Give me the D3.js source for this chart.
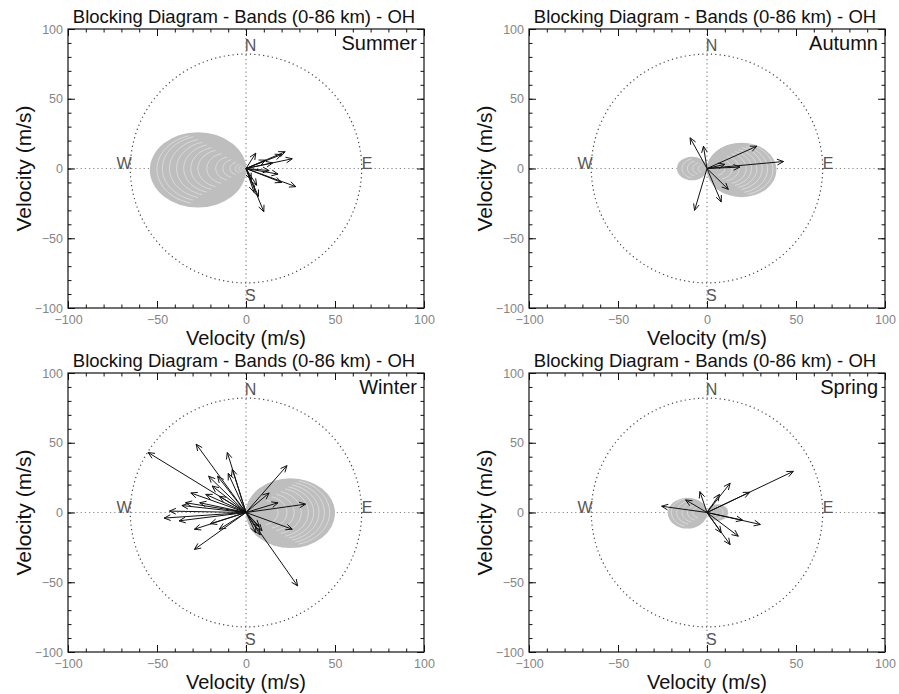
<!DOCTYPE html>
<html>
<head>
<meta charset="utf-8">
<script src="https://cdn.jsdelivr.net/npm/d3@7"></script>
<style>
  body { margin: 0; background: #fff; }
  text { font-family: "Liberation Sans", Arial, sans-serif; }
</style>
</head>
<body>
<div id="chart"></div>
<script>
var seasons = ["Summer", "Autumn", "Winter", "Spring"];
var titleText = "Blocking Diagram - Bands (0-86 km) - OH";
var axisLabel = "Velocity (m/s)";
var tickValues = [-100, -50, 0, 50, 100];
var minorTickValues = d3.range(-100, 101, 10);
var compassRadius = [65, 82];
var compassLetters = [
  { t: "N", x: 2.5, y: 84 },
  { t: "S", x: 2.5, y: -95 },
  { t: "W", x: -68.5, y: 0 },
  { t: "E", x: 68, y: 0 }
];

// wave vectors (u, v) in m/s
var summerArrows = [[22, 12], [26, 7], [20, 10], [5.5, 11], [15, 4], [11, 6], [13, -1.5], [18, -4],
  [20, -10], [28, -13], [7, -20], [4.5, -17], [10, -31], [6, -12], [3, -8]];
var autumnArrows = [[43, 5], [28, 16], [-9.5, 22], [-2, 16], [-7, -30], [8, -24], [12, -15], [18.5, 1], [10, 3]];
var winterArrows = [[-55, 43], [-28, 49], [-10.5, 43], [-7.7, 31], [-10, 28], [-16, 26], [-21, 26], [-19, 19],
  [-22.6, 13], [-15, 11.6], [-31, 14], [-26, 7], [-34, 7], [-36, 5], [-43, 1], [-46, -4], [-37.6, -6],
  [-29, -12], [-15, -12], [-29, -26.5], [-20, -8], [23, 33.6], [13, 14], [18, 7], [33.5, 6], [26, -12],
  [29, -52.6], [8, -16], [5.5, -14.5], [9, -13], [7.5, -10]];
var springArrows = [[48.5, 29.5], [24, 14.5], [13, 21], [7, 13], [-4, 15], [-12, 9], [-25.5, 4.5],
  [30, -8.6], [20, -5.5], [17.6, -17], [13, -23], [8, -14.5]];

// wind end points of the blocking circles (circle diameter from origin to point)
var summerBlocks = [[-54, -2], [-50, -1], [-47, 0], [-43, 0], [-39, 0], [-35, 0], [-31, 0], [-27, 0],
  [-22, 0], [-17, 0], [-13, 0], [-9, 0], [-6, 0], [-4, 0], [-2, 0]];
var autumnBlocks = [[39, -2], [37, -1], [34, -1], [31, 0], [28, 0], [25, 0], [22, 0], [18, 0], [14, -1],
  [10, 0], [-17, 0], [-14, 0], [-11, 0], [-8, 0], [-5, 0]];
var winterBlocks = [[50, -1], [47, 0], [44, 0], [41, 0], [38, 0], [35, 0], [31, 0], [27, 0], [23, 0], [18, 0]];
var springBlocks = [[-22, -1], [-20, 0], [-17, 0], [-14, 0], [-11, 0], [-8, 0], [12, 0], [9, 0]];

var allArrows = [summerArrows, autumnArrows, winterArrows, springArrows];
var allBlocks = [summerBlocks, autumnBlocks, winterBlocks, springBlocks];

var panelLeft = [68, 529], panelTop = [29, 373];
var W = 356, H = 279;

var svg = d3.select("#chart").append("svg")
  .attr("width", 899).attr("height", 694);

function fmt(d) { return d < 0 ? "\u2212" + Math.abs(d) : String(d); }

function drawPanel(i) {
  var left = panelLeft[i % 2], top = panelTop[Math.floor(i / 2)];
  var x = d3.scaleLinear().domain([-100, 100]).range([0, W]);
  var y = d3.scaleLinear().domain([-100, 100]).range([H, 0]);
  var g = svg.append("g").attr("transform", "translate(" + left + "," + top + ")");

  // dotted cross
  g.append("line").attr("x1", x(-100)).attr("x2", x(100)).attr("y1", y(0)).attr("y2", y(0))
    .attr("stroke", "#888").attr("stroke-width", 1.2).attr("stroke-dasharray", "1.2,3");
  g.append("line").attr("x1", x(0)).attr("x2", x(0)).attr("y1", y(-100)).attr("y2", y(100))
    .attr("stroke", "#888").attr("stroke-width", 1.2).attr("stroke-dasharray", "1.2,3");

  // compass circle
  g.append("ellipse")
    .attr("cx", x(0)).attr("cy", y(0))
    .attr("rx", x(compassRadius[0]) - x(0)).attr("ry", y(0) - y(compassRadius[1]))
    .attr("fill", "none").attr("stroke", "#444").attr("stroke-width", 1.2)
    .attr("stroke-dasharray", "1.2,3.2");

  // blocked regions
  var blocks = allBlocks[i];
  g.selectAll(".blob").data(blocks).enter().append("ellipse")
    .attr("class", "blob")
    .attr("cx", function (d) { return x(d[0] / 2); })
    .attr("cy", function (d) { return y(d[1] / 2); })
    .attr("rx", function (d) { return x(Math.hypot(d[0], d[1]) / 2) - x(0); })
    .attr("ry", function (d) { return y(0) - y(Math.hypot(d[0], d[1]) / 2); })
    .attr("fill", "#bebebe");

  var arcLine = d3.line().x(function (p) { return x(p[0]); }).y(function (p) { return y(p[1]); });
  g.selectAll(".arcw").data(blocks.filter(function (d, k) { return k > 0; })).enter().append("path")
    .attr("class", "arcw")
    .attr("d", function (d) {
      var r = Math.hypot(d[0], d[1]) / 2, phi = Math.atan2(d[1], d[0]);
      var pts = d3.range(-75, 76, 5).map(function (a) {
        var t = phi + a * Math.PI / 180;
        return [d[0] / 2 + r * Math.cos(t), d[1] / 2 + r * Math.sin(t)];
      });
      return arcLine(pts);
    })
    .attr("fill", "none").attr("stroke", "#fff").attr("stroke-width", 0.7).attr("opacity", 0.6);

  // arrows
  g.selectAll(".arrow").data(allArrows[i]).enter().append("path")
    .attr("class", "arrow")
    .attr("d", function (d) {
      var x0 = x(0), y0 = y(0), x1 = x(d[0]), y1 = y(d[1]);
      var ang = Math.atan2(y1 - y0, x1 - x0), L = 7, spread = 0.42;
      var ax = x1 - L * Math.cos(ang - spread), ay = y1 - L * Math.sin(ang - spread);
      var bx = x1 - L * Math.cos(ang + spread), by = y1 - L * Math.sin(ang + spread);
      return "M" + x0 + "," + y0 + "L" + x1 + "," + y1 +
        "M" + ax + "," + ay + "L" + x1 + "," + y1 + "L" + bx + "," + by;
    })
    .attr("fill", "none").attr("stroke", "#111").attr("stroke-width", 1);

  // compass letters
  g.selectAll(".letter").data(compassLetters).enter().append("text")
    .attr("class", "letter")
    .attr("x", function (d) { return x(d.x); })
    .attr("y", function (d) { return y(d.y); })
    .attr("text-anchor", "middle")
    .attr("font-size", 16).attr("fill", "#555")
    .text(function (d) { return d.t; });

  // frame with inward ticks
  function styleAxis(sel) {
    sel.select(".domain").remove();
    sel.selectAll("line").attr("stroke", "#111");
  }
  g.append("g").attr("transform", "translate(0," + H + ")")
    .call(d3.axisBottom(x).tickValues(tickValues).tickSize(-7).tickSizeOuter(0).tickPadding(7).tickFormat(fmt))
    .call(styleAxis)
    .selectAll("text").attr("font-size", 12.5).attr("fill", "#858585")
    .attr("font-family", "Liberation Sans, Arial, sans-serif");
  g.append("g").attr("transform", "translate(0," + H + ")")
    .call(d3.axisBottom(x).tickValues(minorTickValues).tickSize(-3.5).tickSizeOuter(0).tickFormat(""))
    .call(styleAxis);
  g.append("g")
    .call(d3.axisLeft(y).tickValues(tickValues).tickSize(-7).tickSizeOuter(0).tickPadding(5).tickFormat(fmt))
    .call(styleAxis)
    .selectAll("text").attr("font-size", 12.5).attr("fill", "#858585")
    .attr("font-family", "Liberation Sans, Arial, sans-serif");
  g.append("g")
    .call(d3.axisLeft(y).tickValues(minorTickValues).tickSize(-3.5).tickSizeOuter(0).tickFormat(""))
    .call(styleAxis);
  g.append("g")
    .call(d3.axisTop(x).tickValues(tickValues).tickSize(-7).tickSizeOuter(0).tickFormat(""))
    .call(styleAxis);
  g.append("g")
    .call(d3.axisTop(x).tickValues(minorTickValues).tickSize(-3.5).tickSizeOuter(0).tickFormat(""))
    .call(styleAxis);
  g.append("g").attr("transform", "translate(" + W + ",0)")
    .call(d3.axisRight(y).tickValues(tickValues).tickSize(-7).tickSizeOuter(0).tickFormat(""))
    .call(styleAxis);
  g.append("g").attr("transform", "translate(" + W + ",0)")
    .call(d3.axisRight(y).tickValues(minorTickValues).tickSize(-3.5).tickSizeOuter(0).tickFormat(""))
    .call(styleAxis);
  g.append("rect").attr("x", 0).attr("y", 0).attr("width", W).attr("height", H)
    .attr("fill", "none").attr("stroke", "#111").attr("stroke-width", 1.2);

  // texts
  g.append("text").attr("x", W / 2 - 2).attr("y", -6).attr("text-anchor", "middle")
    .attr("font-size", 18.5).attr("fill", "#111").text(titleText);
  g.append("text").attr("x", W - 7).attr("y", 21).attr("text-anchor", "end")
    .attr("font-size", 20).attr("fill", "#111").text(seasons[i]);
  g.append("text").attr("x", W / 2).attr("y", H + 37).attr("text-anchor", "middle")
    .attr("font-size", 20).attr("fill", "#111").text(axisLabel);
  g.append("text").attr("transform", "translate(-44," + (H / 2) + ") rotate(-90)")
    .attr("text-anchor", "middle").attr("dy", "0.35em")
    .attr("font-size", 21).attr("fill", "#111").text(axisLabel);
}

for (var i = 0; i < 4; i++) drawPanel(i);
</script>
</body>
</html>
